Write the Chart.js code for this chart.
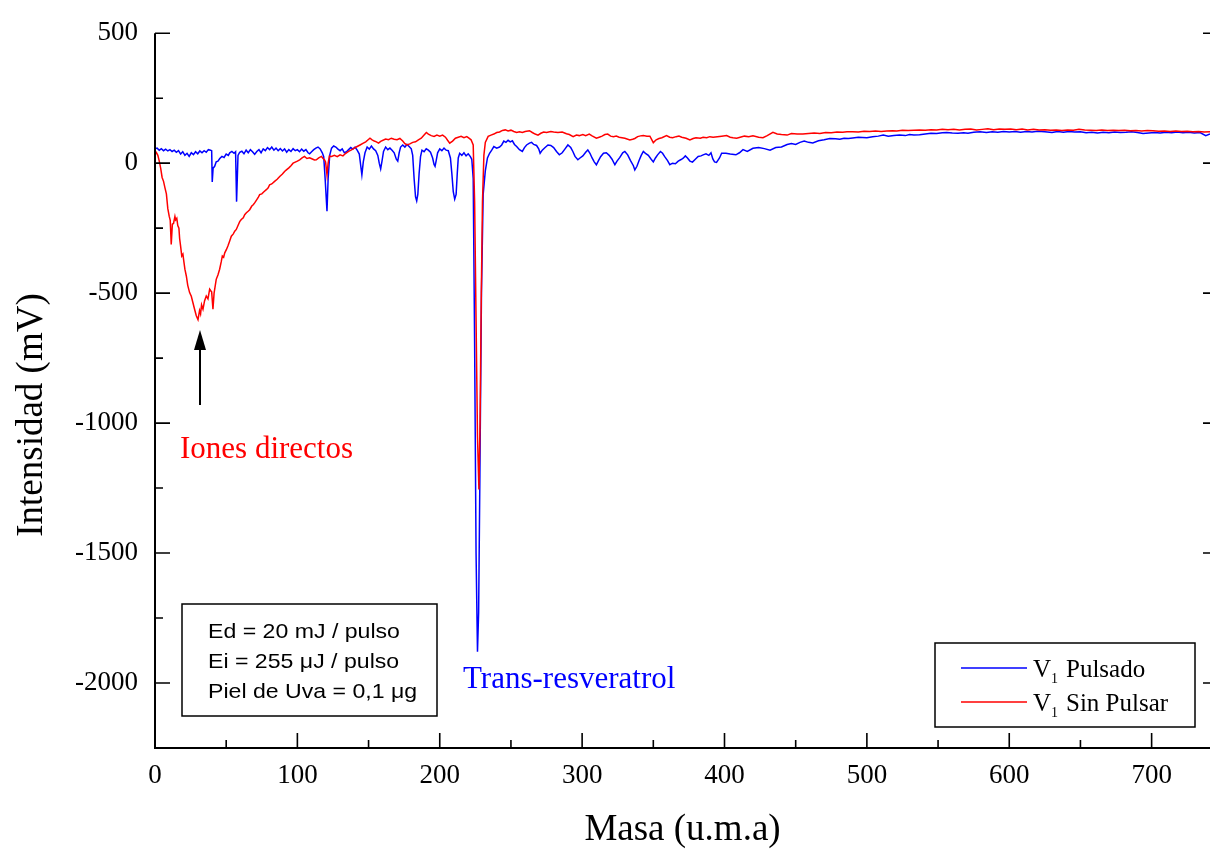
<!DOCTYPE html>
<html>
<head>
<meta charset="utf-8">
<script src="https://cdn.jsdelivr.net/npm/chart.js@4.4.0/dist/chart.umd.min.js"></script>
<style>
  html, body { margin: 0; padding: 0; background: #fff; }
  canvas { display: block; }
</style>
</head>
<body>
<canvas id="massChart" width="1210" height="852"></canvas>
<script>
const blueMass = [
  0, 1.5, 3, 4.5, 6, 7.5, 9, 10.5, 12, 13.5,
  15, 16.5, 18, 19.5, 21, 22.5, 24, 25.5, 27, 28.5,
  30, 31.5, 33, 34.5, 36, 37.5, 39, 39.8, 40.2, 40.8,
  41.9, 43, 44.2, 45.5, 47, 48.5, 50, 51.5, 52.5, 54,
  55.5, 56.6, 57.3, 58.3, 59.5, 61, 62.5, 64, 65.5, 67,
  68.5, 70, 71.5, 73, 74.5, 76, 77.5, 79, 80.5, 82,
  83.5, 85, 86.5, 88, 89.5, 91, 92.5, 94, 95.5, 97,
  98.5, 100, 101.5, 103, 104.5, 106, 107.5, 108.6, 110, 111.5,
  113, 114.5, 116, 117.5, 118.5, 119.5, 120.8, 121.6, 122.7, 124,
  125.5, 127, 128.5, 130, 131.5, 133, 134.5, 136, 137.5, 139,
  140.5, 142, 143.5, 144.5, 145.3, 146.3, 147.5, 149, 150.5, 152,
  153.5, 155, 156.5, 157.5, 158.5, 159.5, 160.5, 162, 163.5, 165,
  166.5, 168, 169.5, 170.5, 171.5, 172.5, 174, 175.5, 177, 178.5,
  180, 181, 182, 183, 183.8, 184.6, 185.5, 186.5, 187.5, 189,
  190.5, 192, 193.5, 195, 196, 196.7, 197.5, 198.5, 200, 201.5,
  203, 204.5, 206, 207.5, 208.5, 209.5, 210.5, 211.5, 212.3, 213,
  214, 215.5, 217, 218.5, 220, 221.5, 222.5, 223.5, 224.5, 225.5,
  226.5, 227.3, 228.2, 229.3, 230.5, 232, 233.5, 235, 236.5, 238,
  240, 242, 243.5, 245, 246.5, 248, 249.5, 251, 252.5, 254,
  256, 258, 259.5, 261, 263, 264.5, 266, 268, 269.5, 270.5,
  272, 274, 276, 278, 280, 282, 284, 286, 288, 290,
  292, 293.5, 295, 297, 298.5, 300.5, 302.5, 304, 305.5, 307,
  308.5, 310, 311.5, 313, 315, 317, 319, 321, 323, 324.5,
  326.5, 328.5, 330, 332, 334, 336, 337, 338.5, 340, 341.5,
  343, 344.5, 346.5, 348.5, 350, 351.5, 353, 355, 356.5, 358,
  360, 361.6, 363.5, 365.5, 367.5, 369.5, 371, 372.5, 374, 375.7,
  377.5, 379.5, 381.5, 383.5, 385, 387, 389, 390.5, 391.8, 393,
  394.4, 396.5, 398, 401, 404, 408, 410.5, 413, 416, 420,
  424, 428, 432, 436, 440, 444, 447, 450, 453, 456,
  459, 462, 466, 470, 474, 478, 481, 484, 487, 490,
  494, 497, 500, 504, 508, 511.5, 515, 519, 523, 527,
  530, 533, 537, 541, 545, 549, 553, 556, 560, 564,
  568, 571, 575, 579.5, 584, 588, 592, 596, 600, 604,
  608, 612, 616, 620, 625, 630, 634, 638, 642, 646,
  650, 654, 658, 662, 666, 670, 674, 678, 682, 686,
  690, 694, 698, 702, 706, 710, 714, 718, 722, 726,
  730, 734, 738, 741
];
const blueInt = [
  55, 58, 50, 56, 48, 54, 47, 52, 45, 50,
  42, 48, 35, 44, 30, 38, 26, 40, 33, 44,
  36, 47, 40, 48, 42, 52, 50, 48, -72, -20,
  -12, 5, 8, 18, 26, 22, 35, 30, 40, 45,
  38, 44, -148, 30, 42, 46, 36, 50, 40, 52,
  44, 34, 45, 52, 40, 55, 48, 60, 52, 62,
  50, 58, 48, 56, 47, 55, 42, 52, 45, 56,
  48, 52, 44, 54, 46, 52, 40, 36, 44, 52,
  58, 62, 55, 40, 25, -60, -185, -60, 30, 58,
  66, 62, 54, 48, 55, 40, 44, 52, 60, 54,
  62, 50, 35, -10, -45, 5, 40, 62, 54, 66,
  55, 48, 30, 0, -22, 10, 45, 62, 52, 58,
  50, 40, 15, 8, 40, 62, 70, 62, 72, 64,
  55, 30, -60, -130, -145, -120, -40, 25, 50, 44,
  55, 50, 42, 20, -5, -12, 10, 40, 55, 48,
  58, 50, 48, 20, -40, -110, -138, -120, -40, 20,
  38, 30, 40, 28, 36, 25, 15, -60, -700, -1500,
  -1880, -1730, -1200, -500, -120, -30, 20, 38, 50, 64,
  58, 62, 70, 85, 80, 88, 82, 86, 72, 64,
  52, 45, 60, 70, 77, 80, 72, 68, 55, 38,
  50, 60, 70, 68, 60, 45, 32, 40, 55, 70,
  60, 45, 26, 13, 20, 28, 42, 51, 38, 20,
  5, -6, 10, 25, 38, 40, 30, 15, -6, 8,
  22, 40, 45, 32, 10, -10, -26, -12, 10, 30,
  45, 38, 30, 15, 5, 20, 32, 45, 38, 25,
  10, -6, 0, -2, 8, 14, 19, 28, 20, 8,
  4, 15, 26, 28, 32, 36, 30, 40, 16, 5,
  3, 20, 38, 38, 35, 32, 40, 52, 45, 57,
  60, 56, 50, 60, 62, 72, 76, 72, 80, 85,
  80, 78, 86, 90, 95, 94, 92, 96, 95, 97,
  100, 99, 98, 102, 104, 108, 104, 106, 108, 106,
  110, 108, 109, 112, 115, 114, 117, 118, 116, 115,
  117, 115, 119, 121, 118, 121, 119, 122, 120, 122,
  119, 122, 120, 123, 121, 118, 122, 119, 122, 120,
  121, 117, 119, 116, 119, 117, 120, 118, 119, 121,
  118, 114, 116, 118, 116, 119, 117, 120, 117, 119,
  116, 118, 106, 112
];

const redMass = [
  0, 1, 2, 3, 4, 5, 6, 7, 8, 9,
  10, 10.7, 11.4, 12.2, 13, 14, 14.5, 15.3, 16, 16.8,
  17.3, 18, 18.8, 19.6, 20.3, 21, 22, 23, 24.3, 25.5,
  26.6, 27.8, 29, 30.2, 31.3, 32, 32.7, 33.7, 34.8, 36,
  37.2, 38.4, 39.3, 39.8, 40.7, 41.5, 43, 44.2, 45.4, 46.5,
  47.3, 48.2, 49, 50.2, 51.2, 52.4, 53.6, 55, 56, 57.1,
  58.3, 59.5, 60.6, 62, 63, 64.2, 65.4, 66.5, 68, 69,
  70, 71.5, 72.5, 73.5, 75, 76.5, 78.2, 79.5, 80.5, 82,
  84, 85.8, 87.6, 89.5, 91, 92.3, 94, 95.5, 97, 98.5,
  100, 101.6, 103.3, 105, 106.7, 108.6, 110.5, 112, 113.3, 115,
  116.9, 118, 119, 119.8, 120.8, 121.6, 122.5, 124, 126, 128,
  130, 132, 134, 136, 138, 140, 142, 144, 146, 148,
  149.5, 151, 152.5, 154, 155.5, 157, 158.5, 160.5, 162, 164,
  166, 168, 170, 172, 174, 175.5, 177, 179, 181, 183,
  185, 187, 189, 190.6, 192, 194, 196, 198, 200, 202,
  204, 205.5, 207, 209, 211, 213, 215, 217, 219, 220.5,
  222, 223.5, 224.5, 225.5, 226.5, 227.5, 228.3, 229.2, 230, 231,
  232, 234, 236, 238, 240, 242, 244, 246, 248, 250,
  252, 254, 256, 258, 260, 263, 265, 267, 269, 271,
  273, 275, 278, 280, 283, 286, 289, 291, 293.7, 296,
  298, 300.5, 302.5, 305, 307, 310, 312, 314, 316, 318,
  320, 322, 324, 326, 328, 330, 333.5, 335.5, 337, 339,
  341, 343, 345.5, 347.6, 350, 352, 354, 356, 359.3, 361.5,
  363.5, 366, 368, 370, 373, 375.7, 378, 380, 383, 385,
  387.5, 389.7, 392, 395, 398, 401.5, 404, 406, 408.5, 411,
  414, 417, 420, 424, 427, 430, 434, 437, 440, 444,
  447, 451, 455, 459, 463, 467, 471, 475, 479, 483,
  486, 490, 494, 498, 502, 506, 510, 514, 518, 521,
  525, 529, 533, 537, 541, 545, 549, 553, 557, 561,
  565, 569, 573, 577, 581, 585, 589, 593, 597, 601,
  605, 609, 613, 617, 621, 625, 629, 633, 637, 641,
  645, 649, 653, 657, 661, 665, 669, 673, 677, 681,
  685, 689, 693, 697, 701, 705, 709, 713, 717, 721,
  725, 729, 733, 737, 741
];
const redInt = [
  48, 40, 30, 8, -20, -55, -70, -95, -118, -175,
  -205, -220, -313, -235, -232, -205, -218, -212, -240, -250,
  -290, -320, -357, -350, -380, -408, -434, -470, -498, -512,
  -536, -562, -587, -602, -567, -580, -545, -562, -530, -511,
  -522, -485, -492, -495, -562, -500, -447, -430, -408, -380,
  -357, -362, -345, -332, -319, -300, -281, -272, -262, -255,
  -240, -225, -217, -210, -198, -191, -185, -179, -165, -160,
  -153, -140, -132, -121, -118, -110, -102, -95, -83, -80,
  -70, -62, -51, -42, -32, -26, -18, -10, 0, 4,
  8, 13, 20, 26, 18, 21, 16, 12, 13, 20,
  26, 18, 13, 5, -45, 0, 27, 26, 30, 25,
  32, 28, 38, 45, 51, 58, 64, 70, 76, 82,
  89, 96, 90, 85, 82, 77, 84, 89, 93, 90,
  96, 92, 90, 95, 85, 75, 70, 74, 80, 82,
  90, 96, 108, 118, 112, 106, 103, 108, 104, 108,
  100, 88, 77, 85, 96, 100, 103, 98, 102, 96,
  90, 70, -150, -600, -1050, -1255, -1000, -500, -150, 30,
  80, 103, 108, 112, 118, 120, 126, 128, 124, 127,
  122, 118, 121, 118, 122, 125, 118, 112, 108, 115,
  120, 118, 122, 120, 118, 120, 113, 110, 102, 108,
  106, 110, 106, 112, 105, 96, 100, 104, 110, 112,
  104, 102, 104, 100, 98, 96, 89, 92, 95, 102,
  105, 106, 104, 104, 79, 90, 95, 98, 106, 100,
  98, 102, 104, 100, 96, 89, 95, 98, 96, 100,
  98, 102, 100, 102, 104, 106, 100, 98, 96, 100,
  104, 102, 105, 100, 98, 106, 119, 112, 110, 108,
  114, 112, 112, 114, 116, 114, 118, 117, 120, 119,
  121, 121, 120, 123, 122, 124, 122, 124, 125, 124,
  127, 126, 127, 128, 127, 129, 128, 130, 129, 130,
  128, 130, 131, 128, 130, 132, 129, 131, 130, 131,
  129, 131, 128, 130, 128, 129, 127, 128, 126, 128,
  127, 130, 128, 127, 126, 128, 126, 127, 126, 127,
  125, 126, 124, 126, 125, 123, 124, 122, 124, 122,
  123, 121, 122, 120, 121
];

const xTicks = [0, 100, 200, 300, 400, 500, 600, 700];
const yTicks = [500, 0, -500, -1000, -1500, -2000];

const serif = "'Liberation Serif', 'Times New Roman', serif";
const sans = "'Liberation Sans', Arial, sans-serif";

function toPoints(xs, ys) {
    return xs.map((m, i) => ({ x: m, y: ys[i] }));
}

// Ejes, marcas hacia dentro, recuadros y anotaciones
const framePlugin = {
    id: 'frame',
    afterDraw(chart) {
        const ctx = chart.ctx;
        const a = chart.chartArea;
        const x = chart.scales.x;
        const y = chart.scales.y;
        ctx.save();
        ctx.strokeStyle = '#000';
        ctx.lineWidth = 2;
        ctx.beginPath();
        ctx.moveTo(a.left, a.top);
        ctx.lineTo(a.left, a.bottom);
        ctx.lineTo(a.right, a.bottom);
        ctx.stroke();

        ctx.lineWidth = 1.6;
        ctx.beginPath();
        xTicks.forEach((v, i) => {
            const px = x.getPixelForValue(v);
            ctx.moveTo(px, a.bottom);
            ctx.lineTo(px, a.bottom - 15);
            const mid = x.getPixelForValue(v + 50);
            if (mid < a.right) {
                ctx.moveTo(mid, a.bottom);
                ctx.lineTo(mid, a.bottom - 8);
            }
        });
        yTicks.forEach(v => {
            const py = y.getPixelForValue(v);
            ctx.moveTo(a.left, py);
            ctx.lineTo(a.left + 15, py);
            ctx.moveTo(a.right, py);
            ctx.lineTo(a.right - 7, py);
            const mid = y.getPixelForValue(v - 250);
            ctx.moveTo(a.left, mid);
            ctx.lineTo(a.left + 8, mid);
        });
        ctx.stroke();

        // titulo eje Y
        ctx.fillStyle = '#000';
        ctx.font = '37px ' + serif;
        ctx.textAlign = 'center';
        ctx.textBaseline = 'middle';
        ctx.save();
        ctx.translate(32, 415);
        ctx.rotate(-Math.PI / 2);
        ctx.fillText('Intensidad (mV)', 0, 0);
        ctx.restore();

        // flecha
        ctx.lineWidth = 2;
        ctx.beginPath();
        ctx.moveTo(200, 405);
        ctx.lineTo(200, 345);
        ctx.stroke();
        ctx.beginPath();
        ctx.moveTo(200, 330);
        ctx.lineTo(194, 350);
        ctx.lineTo(206, 350);
        ctx.closePath();
        ctx.fill();

        ctx.textAlign = 'left';
        ctx.textBaseline = 'alphabetic';
        ctx.font = '31px ' + serif;
        ctx.fillStyle = '#ff0000';
        ctx.fillText('Iones directos', 180, 458);
        ctx.fillStyle = '#0000ff';
        ctx.fillText('Trans-resveratrol', 463, 688);

        // cuadro de condiciones
        ctx.strokeStyle = '#000';
        ctx.lineWidth = 1.5;
        ctx.strokeRect(182, 604, 255, 112);
        ctx.fillStyle = '#000';
        ctx.font = '21px ' + sans;
        ['Ed = 20 mJ / pulso', 'Ei = 255 \u03bcJ / pulso', 'Piel de Uva = 0,1 \u03bcg'].forEach((t, i) => {
            ctx.save();
            ctx.translate(208, 638 + i * 30);
            ctx.scale(1.1, 1);
            ctx.fillText(t, 0, 0);
            ctx.restore();
        });

        // leyenda
        ctx.strokeRect(935, 643, 260, 84);
        const entries = [
            { name: 'Pulsado', color: '#0000ff' },
            { name: 'Sin Pulsar', color: '#ff0000' }
        ];
        entries.forEach((e, i) => {
            const ly = 668 + i * 34;
            ctx.strokeStyle = e.color;
            ctx.lineWidth = 1.5;
            ctx.beginPath();
            ctx.moveTo(961, ly);
            ctx.lineTo(1027, ly);
            ctx.stroke();
            ctx.fillStyle = '#000';
            ctx.font = '25px ' + serif;
            ctx.fillText('V', 1033, ly + 9);
            ctx.font = '14px ' + serif;
            ctx.fillText('1', 1051, ly + 15);
            ctx.font = '25px ' + serif;
            ctx.fillText(e.name, 1066, ly + 9);
        });
        ctx.restore();
    }
};

document.addEventListener('DOMContentLoaded', function() {
    const ctx = document.getElementById('massChart').getContext('2d');
    new Chart(ctx, {
        type: 'line',
        data: {
            datasets: [
                {
                    label: 'V1 Pulsado',
                    data: toPoints(blueMass, blueInt),
                    borderColor: '#0000ff',
                    borderWidth: 1.5,
                    pointRadius: 0,
                    tension: 0,
                    order: 1
                },
                {
                    label: 'V1 Sin Pulsar',
                    data: toPoints(redMass, redInt),
                    borderColor: '#ff0000',
                    borderWidth: 1.5,
                    pointRadius: 0,
                    tension: 0,
                    order: 0
                }
            ]
        },
        options: {
            responsive: false,
            animation: false,
            layout: { padding: { top: 30, right: 0, bottom: 0, left: 0 } },
            plugins: {
                legend: { display: false },
                tooltip: { enabled: false }
            },
            scales: {
                x: {
                    type: 'linear',
                    min: 0,
                    max: 741,
                    afterBuildTicks: s => { s.ticks = xTicks.map(v => ({ value: v })); },
                    afterFit: s => { s.height = 104; },
                    grid: { display: false, drawTicks: false },
                    border: { display: false },
                    ticks: {
                        padding: 12,
                        color: '#000',
                        maxRotation: 0,
                        autoSkip: false,
                        font: { family: serif, size: 27 },
                        callback: v => String(v)
                    },
                    title: {
                        display: true,
                        text: 'Masa (u.m.a)',
                        color: '#000',
                        font: { family: serif, size: 37 },
                        padding: { top: 0, bottom: 0 }
                    }
                },
                y: {
                    type: 'linear',
                    min: -2250,
                    max: 500,
                    afterBuildTicks: s => { s.ticks = yTicks.map(v => ({ value: v })); },
                    afterFit: s => { s.width = 155; },
                    grid: { display: false, drawTicks: false },
                    border: { display: false },
                    ticks: {
                        padding: 17,
                        color: '#000',
                        autoSkip: false,
                        font: { family: serif, size: 27 },
                        callback: v => String(v)
                    }
                }
            }
        },
        plugins: [framePlugin]
    });
});
</script>
</body>
</html>
